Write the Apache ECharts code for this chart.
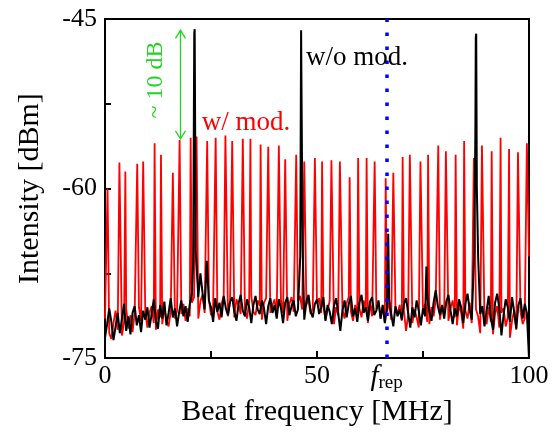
<!DOCTYPE html>
<html><head><meta charset="utf-8">
<script src="https://cdn.jsdelivr.net/npm/echarts@6/dist/echarts.min.js"></script>
<style>html,body{margin:0;padding:0;background:#fff}#c{width:556px;height:432px}</style>
</head><body><div id="c"></div>
<script>
// ---- data (MHz / dBm) ----
const freqStep = 0.5; // MHz spacing of the noise-floor samples
const blackNoise = [
-73.2,-72.0,-70.6,-71.8,-73.4,-72.2,-71.0,-72.8,-71.5,-70.2,-72.6,-71.3,-72.9,-71.0,-70.4,-72.1,-71.2,-72.7,-70.8,-71.6,
-70.5,-72.3,-71.1,-69.8,-71.7,-72.4,-70.3,-71.5,-70.0,-72.1,-71.0,-69.7,-71.4,-70.6,-72.2,-70.9,-69.9,-71.3,-70.4,-71.8,
-70.2,-69.3,-70.8,-71.5,-69.6,-67.5,-69.2,-70.7,-71.6,-69.9,-70.5,-71.8,-69.7,-70.9,-70.1,-71.4,-69.5,-70.6,-71.2,-70.0,
-69.6,-70.9,-71.7,-70.2,-69.4,-70.8,-71.3,-69.8,-70.5,-71.9,-70.3,-69.5,-70.7,-71.1,-69.9,-70.6,-72.0,-70.4,-69.7,-71.0,
-70.3,-71.5,-69.8,-70.6,-71.9,-70.1,-69.6,-71.2,-70.4,-69.9,-71.3,-70.7,-69.5,-70.8,-71.6,-70.0,-69.4,-70.9,-71.4,-70.2,
-69.8,-71.1,-70.5,-69.6,-71.7,-70.3,-70.9,-72.0,-70.4,-69.7,-71.0,-72.6,-70.8,-69.9,-71.4,-70.2,-69.5,-71.3,-70.6,-71.8,
-70.1,-69.4,-71.0,-70.5,-71.7,-70.0,-69.6,-71.2,-70.8,-69.9,-71.5,-70.3,-71.9,-70.6,-69.8,-71.1,-72.2,-70.4,-71.3,-70.7,
-71.6,-70.2,-69.7,-71.0,-72.3,-70.5,-71.4,-69.9,-70.8,-72.1,-70.6,-71.3,-69.5,-70.9,-71.7,-70.1,-69.0,-70.4,-71.2,-70.3,
-71.5,-70.0,-69.4,-70.8,-72.0,-70.6,-71.3,-69.8,-70.5,-71.9,-70.2,-69.3,-70.7,-71.6,-70.0,-70.9,-69.6,-71.1,-70.4,-72.2,
-70.8,-69.5,-71.4,-72.5,-70.1,-69.3,-70.6,-73.0,-71.2,-69.8,-70.5,-71.8,-69.6,-70.9,-72.4,-70.3,-69.7,-71.5,-70.2,-71.0,
-75.0];
const blackPeakMHz = [20.8,21.05,21.15,21.4,24.0,46.05,46.25,46.35,46.6,66.8,75.8,87.1,87.35,87.45,87.55,87.7,88.0];
const blackPeakDbm = [-66.5,-46.3,-45.9,-65.5,-66.4,-66.0,-46.0,-45.9,-65.0,-64.0,-66.9,-65.5,-55.0,-46.6,-46.3,-60.0,-66.0];

const redFloor = [
-71.5,-72.2,-72.8,-73.3,-71.9,-70.8,-72.5,-71.4,-73.0,-71.8,-70.6,-72.4,-71.2,-72.7,-71.0,-72.1,-70.5,-71.7,-72.6,-70.9,
-72.3,-71.0,-70.4,-71.9,-72.5,-70.7,-71.4,-72.0,-70.6,-71.6,-72.2,-70.9,-70.3,-71.5,-70.8,-72.0,-71.1,-70.2,-71.7,-70.6,
-71.3,-70.1,-69.6,-70.8,-71.5,-70.0,-69.4,-71.0,-70.3,-69.8,-71.2,-70.5,-69.7,-70.9,-71.6,-70.2,-69.5,-70.7,-71.3,-69.9,
-70.6,-71.4,-69.8,-70.3,-71.1,-69.6,-70.8,-71.5,-70.0,-69.5,-70.9,-71.2,-69.9,-70.4,-71.6,-70.1,-69.7,-70.8,-71.0,-70.3,
-69.8,-71.3,-70.5,-69.9,-71.0,-70.4,-71.7,-70.2,-69.6,-70.9,-71.4,-70.0,-69.5,-70.7,-71.8,-70.3,-69.9,-71.1,-70.6,-71.5,
-70.2,-69.7,-71.0,-70.4,-71.6,-70.8,-69.9,-71.3,-72.0,-70.5,-71.2,-69.8,-70.7,-71.5,-70.1,-69.6,-70.9,-71.7,-70.3,-71.0,
-70.6,-71.4,-69.9,-70.8,-71.9,-70.2,-71.3,-72.5,-70.7,-70.0,-71.5,-70.4,-71.8,-70.9,-70.1,-71.6,-72.2,-70.5,-71.1,-70.3,
-71.7,-70.8,-72.6,-71.2,-70.4,-71.9,-70.7,-71.4,-72.3,-70.6,-71.0,-70.2,-71.8,-72.0,-70.5,-71.3,-69.8,-70.9,-71.6,-70.4,
-71.2,-70.0,-71.7,-70.6,-69.9,-71.4,-72.1,-70.3,-71.0,-72.4,-70.8,-71.5,-70.1,-71.9,-72.6,-70.7,-71.3,-72.8,-70.9,-71.6,
-72.0,-70.5,-71.8,-72.9,-71.1,-70.4,-72.3,-71.0,-70.6,-72.2,-71.4,-73.2,-71.7,-70.8,-72.5,-71.3,-70.9,-72.0,-71.5,-70.7,
-66.0];
const redPeakMHz = [0.6,3.4,4.8,7.6,9.0,11.7,13.2,16.0,17.6,20.2,21.6,24.1,26.1,28.4,30.0,32.5,34.3,36.7,38.5,41.0,
42.5,45.1,47.0,49.5,51.2,53.4,55.4,57.7,59.7,61.7,63.6,66.2,68.0,70.2,71.9,74.4,76.2,78.6,80.4,82.7,
84.7,87.0,88.9,91.2,93.3,95.3,97.4,99.5];
const redPeakDbm = [-60.0,-57.7,-58.5,-57.8,-57.6,-56.0,-57.0,-58.6,-55.7,-55.5,-55.4,-55.8,-55.5,-55.3,-55.8,-55.6,-55.6,-56.1,-56.3,-56.2,
-57.4,-57.0,-57.6,-57.3,-57.6,-57.5,-57.6,-59.0,-57.3,-57.3,-57.6,-59.1,-58.6,-57.2,-57.0,-57.6,-57.0,-56.2,-56.7,-57.0,
-55.8,-57.3,-56.2,-56.7,-55.5,-56.5,-56.8,-56.0];

const frep = 66.4;
const xTickValues = [0,25,50,75,100];
const xLabelValues = [0,50,frep,100];
const yTickValues = [-75,-67.5,-60,-52.5,-45];
const yLabelValues = [-75,-60,-45];
const arrowMHz = 17.8, arrowTopDbm = -46.0, arrowBottomDbm = -55.6;

// ---- build traces: floor samples plus the read peak points ----
function buildTrace(floor, pkX, pkY) {
  const pts = [];
  floor.forEach((v, i) => {
    const x = +(i * freqStep).toFixed(3);
    if (!pkX.some(p => Math.abs(p - x) < 0.15)) pts.push([x, v]);
  });
  pkX.forEach((x, i) => pts.push([x, pkY[i]]));
  pts.sort((a, b) => a[0] - b[0]);
  return pts;
}
const redData = buildTrace(redFloor, redPeakMHz, redPeakDbm);
const blackData = buildTrace(blackNoise, blackPeakMHz, blackPeakDbm);

const FONT = "'Liberation Serif','Times New Roman',serif";
const GREEN = '#22d422';
const chart = echarts.init(document.getElementById('c'), null, {renderer: 'canvas'});

const option = {
  animation: false,
  backgroundColor: '#fff',
  grid: {left: 105, right: 27, top: 19, bottom: 70, show: true, borderColor: '#000', borderWidth: 2, backgroundColor: 'transparent'},
  xAxis: {
    type: 'value', min: 0, max: 100,
    name: 'Beat frequency [MHz]', nameLocation: 'middle', nameGap: 35,
    nameTextStyle: {fontFamily: FONT, fontSize: 30, color: '#000'},
    axisLine: {onZero: false, lineStyle: {color: '#000', width: 2}},
    axisTick: {inside: true, length: 7, customValues: xTickValues, lineStyle: {color: '#000', width: 2}},
    axisLabel: {
      customValues: xLabelValues, margin: 5,
      fontFamily: FONT, fontSize: 26, color: '#000',
      formatter: v => (Math.abs(v - frep) < 1e-6 ? '{f|f}{s|rep}' : String(v)),
      rich: {
        f: {fontFamily: FONT, fontStyle: 'italic', fontSize: 29, color: '#000', verticalAlign: 'bottom'},
        s: {fontFamily: FONT, fontSize: 19, color: '#000', verticalAlign: 'bottom'}
      }
    },
    splitLine: {show: false}
  },
  yAxis: {
    type: 'value', min: -75, max: -45,
    name: 'Intensity [dBm]', nameLocation: 'middle', nameGap: 60,
    nameTextStyle: {fontFamily: FONT, fontSize: 30, color: '#000'},
    axisLine: {onZero: false, lineStyle: {color: '#000', width: 2}},
    axisTick: {inside: true, length: 6, customValues: yTickValues, lineStyle: {color: '#000', width: 2}},
    axisLabel: {customValues: yLabelValues, margin: 8, fontFamily: FONT, fontSize: 26, color: '#000'},
    splitLine: {show: false}
  },
  series: [
    {type: 'line', name: 'w/ mod.', data: redData, symbol: 'none', z: 2,
     lineStyle: {color: '#ff0000', width: 1.8}},
    {type: 'line', name: 'w/o mod.', data: blackData, symbol: 'none', z: 3,
     lineStyle: {color: '#000000', width: 2},
     markLine: {silent: true, symbol: ['none', 'none'], label: {show: false},
       lineStyle: {color: '#0000ff', width: 3.5, type: [3.5, 10.5], cap: 'butt'},
       data: [{xAxis: frep}]}}
  ]
};
chart.setOption(option);

const P = (x, y) => chart.convertToPixel({gridIndex: 0}, [x, y]);
const aTop = P(arrowMHz, arrowTopDbm), aBot = P(arrowMHz, arrowBottomDbm);
const woPos = P(47.4, -48.4), wmPos = P(22.8, -54.2), dbPos = P(11.9, -50.4);
const ls = {stroke: GREEN, lineWidth: 1.3, fill: null};
chart.setOption({graphic: [
  {type: 'line', shape: {x1: aTop[0], y1: aTop[1], x2: aBot[0], y2: aBot[1]}, style: ls, z: 10},
  {type: 'polyline', shape: {points: [[aTop[0]-5, aTop[1]+8], [aTop[0], aTop[1]], [aTop[0]+5, aTop[1]+8]]}, style: ls, z: 10},
  {type: 'polyline', shape: {points: [[aBot[0]-5, aBot[1]-8], [aBot[0], aBot[1]], [aBot[0]+5, aBot[1]-8]]}, style: ls, z: 10},
  {type: 'text', x: dbPos[0], y: dbPos[1], rotation: Math.PI / 2, z: 10,
   style: {text: '~ 10 dB', fill: GREEN, font: '24px ' + FONT, align: 'center', verticalAlign: 'middle'}},
  {type: 'text', x: woPos[0], y: woPos[1], z: 10,
   style: {text: 'w/o mod.', fill: '#000', font: '27px ' + FONT, align: 'left', verticalAlign: 'middle'}},
  {type: 'text', x: wmPos[0], y: wmPos[1], z: 10,
   style: {text: 'w/ mod.', fill: '#ff0000', font: '27px ' + FONT, align: 'left', verticalAlign: 'middle'}}
]});
</script></body></html>
